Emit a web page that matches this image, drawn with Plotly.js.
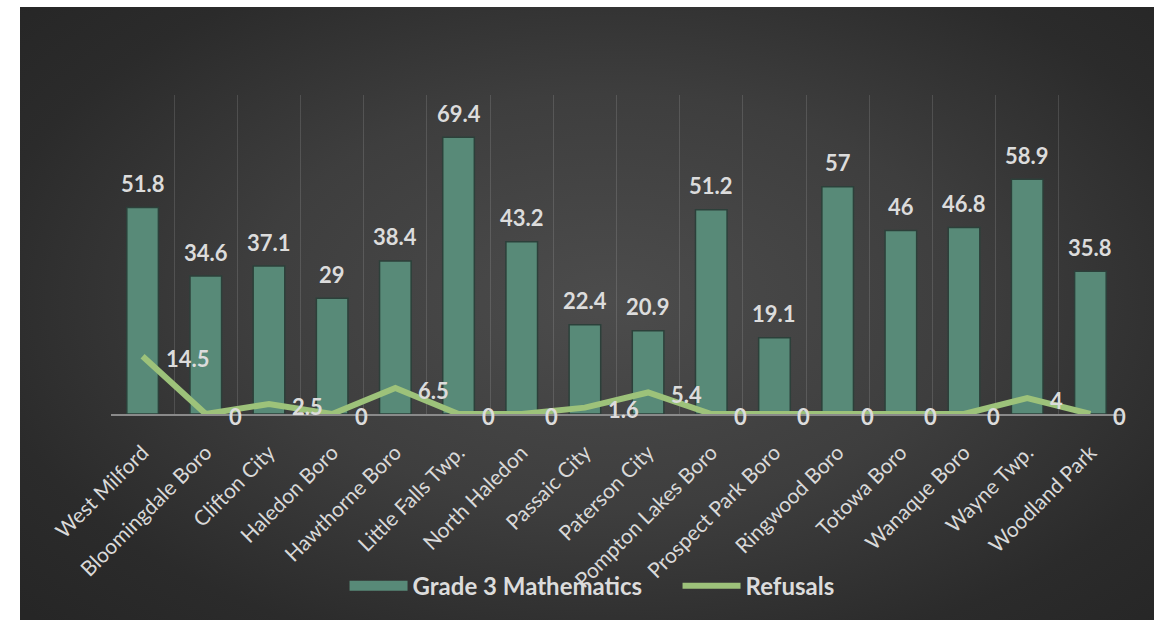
<!DOCTYPE html>
<html>
<head>
<meta charset="utf-8">
<script src="https://cdn.plot.ly/plotly-3.0.1.min.js"></script>
<style>
  html, body { margin: 0; padding: 0; background: #ffffff; width: 1165px; height: 620px; overflow: hidden; }
  #bg { position: absolute; left: 20px; top: 7px; width: 1134px; height: 613px;
        background: radial-gradient(ellipse 70% 75% at 52% 48%, #4c4c4c 0%, #3e3e3e 45%, #2b2b2b 80%, #262626 100%); }
  #chart { position: absolute; left: 0; top: 0; width: 1165px; height: 620px; }
</style>
</head>
<body>
<div id="bg"></div>
<div id="chart"></div>
<script>
const categories = ["West Milford","Bloomingdale Boro","Clifton City","Haledon Boro","Hawthorne Boro","Little Falls Twp.","North Haledon","Passaic City","Paterson City","Pompton Lakes Boro","Prospect Park Boro","Ringwood Boro","Totowa Boro","Wanaque Boro","Wayne Twp.","Woodland Park"];
const grade3Math = [51.8,34.6,37.1,29,38.4,69.4,43.2,22.4,20.9,51.2,19.1,57,46,46.8,58.9,35.8];
const refusals = [14.5,0,2.5,0,6.5,0,0,1.6,5.4,0,0,0,0,0,4,0];
const seriesNames = ["Grade 3 Mathematics", "Refusals"];

const fam = "Lato, 'Open Sans', sans-serif";
const labelFont = {family: fam, size: 22, color: "#dcdcdc", weight: "bold"};
const barColor = "#588a78";

const traces = [
  {
    type: "bar", name: seriesNames[0], x: categories, y: grade3Math,
    width: 0.5, showlegend: false, legendgroup: "math",
    marker: {color: barColor, line: {color: "#2c403a", width: 1.5}},
    hoverinfo: "x+y"
  },
  {
    // legend-only swatch so the legend key is a wide bar like the original
    type: "scatter", mode: "lines", name: seriesNames[0], legendgroup: "math",
    x: [categories[0]], y: [null],
    line: {color: barColor, width: 14}, hoverinfo: "skip"
  },
  {
    type: "scatter", mode: "lines", name: seriesNames[1], x: categories, y: refusals,
    line: {color: "#9dc27a", width: 6},
    hoverinfo: "x+y"
  }
];

const annotations = [];
categories.forEach((c, i) => {
  annotations.push({x: c, y: grade3Math[i], text: "<b>" + grade3Math[i] + "</b>", showarrow: false,
    xref: "x", yref: "y", yanchor: "middle", xanchor: "center", yshift: 24, font: labelFont});
  annotations.push({x: c, y: refusals[i], text: "<b>" + refusals[i] + "</b>", showarrow: false,
    xref: "x", yref: "y", yanchor: "middle", xanchor: "left", xshift: 21, yshift: -2, font: labelFont});
});

const layout = {
  width: 1165, height: 620,
  paper_bgcolor: "rgba(0,0,0,0)", plot_bgcolor: "rgba(0,0,0,0)",
  margin: {l: 111, r: 43, t: 95, b: 202},
  showlegend: true,
  legend: {orientation: "h", x: 0.231, xanchor: "left", y: -0.54, yanchor: "middle",
    itemwidth: 58, entrywidth: 260, entrywidthmode: "pixels",
    font: {family: fam, size: 24, color: "#dcdcdc", weight: "bold"},
    bgcolor: "rgba(0,0,0,0)"},
  xaxis: {type: "category", tickangle: -45, tickson: "boundaries", showgrid: true,
    gridcolor: "rgba(255,255,255,0.13)", gridwidth: 1, ticks: "",
    showline: true, linecolor: "#8a8a8a", linewidth: 2,
    ticklabelstandoff: 16,
    tickfont: {family: fam, size: 21, color: "#d9d9d9"},
    range: [-0.5, 15.5]},
  yaxis: {range: [0, 80], showgrid: false, zeroline: false, showticklabels: false, showline: false, ticks: ""},
  annotations: annotations
};

Plotly.newPlot("chart", traces, layout, {displayModeBar: false, staticPlot: true});
</script>
</body>
</html>
